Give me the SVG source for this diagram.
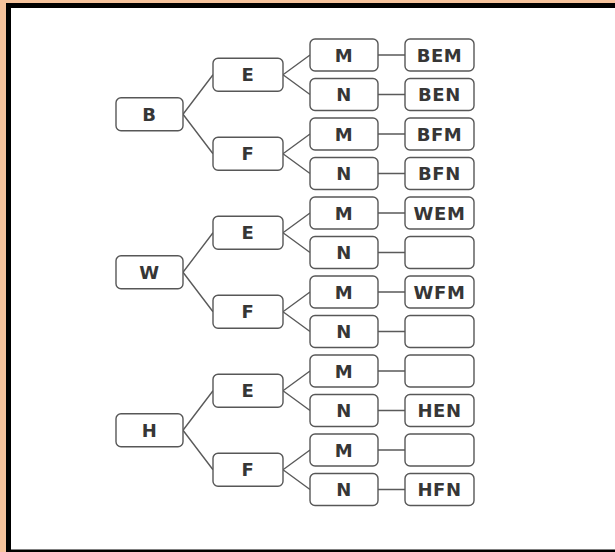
<svg xmlns="http://www.w3.org/2000/svg" width="615" height="552" viewBox="0 0 615 552">
<style>
.bx{fill:#fff;stroke:#575757;stroke-width:1.4}
.t{font-family:"DejaVu Sans",sans-serif;font-weight:bold;font-size:18px;fill:#363636;text-anchor:middle;letter-spacing:0.6px}
.c{stroke:#5a5a5a;stroke-width:1.4;fill:none}
</style>
<rect x="0" y="0" width="615" height="552" fill="#f6c39c"/>
<rect x="6" y="3" width="609" height="549" fill="#000"/>
<rect x="11" y="8" width="604" height="541.5" fill="#fff"/>
<g id="connectors" class="c">
<path d="M183 114.25L213 74.75M183 114.25L213 153.75"/>
<path d="M283 74.75L310 55M283 74.75L310 94.5M283 153.75L310 134M283 153.75L310 173.5"/>
<path d="M183 272.25L213 232.75M183 272.25L213 311.75"/>
<path d="M283 232.75L310 213M283 232.75L310 252.5M283 311.75L310 292M283 311.75L310 331.5"/>
<path d="M183 430.25L213 390.75M183 430.25L213 469.75"/>
<path d="M283 390.75L310 371M283 390.75L310 410.5M283 469.75L310 450M283 469.75L310 489.5"/>
<path d="M378 55H405M378 94.5H405M378 134H405M378 173.5H405M378 213H405M378 252.5H405M378 292H405M378 331.5H405M378 371H405M378 410.5H405M378 450H405M378 489.5H405"/>
</g>
<g id="B"><rect class="bx" x="116" y="97.75" width="67" height="33" rx="5"/><text class="t" x="149.5" y="120.8">B</text></g>
<g id="W"><rect class="bx" x="116" y="255.75" width="67" height="33" rx="5"/><text class="t" x="149.5" y="278.8">W</text></g>
<g id="H"><rect class="bx" x="116" y="413.75" width="67" height="33" rx="5"/><text class="t" x="149.5" y="436.8">H</text></g>
<g id="BE"><rect class="bx" x="213" y="58.25" width="70" height="33" rx="5"/><text class="t" x="248" y="81.3">E</text></g>
<g id="BF"><rect class="bx" x="213" y="137.25" width="70" height="33" rx="5"/><text class="t" x="248" y="160.3">F</text></g>
<g id="WE"><rect class="bx" x="213" y="216.25" width="70" height="33" rx="5"/><text class="t" x="248" y="239.3">E</text></g>
<g id="WF"><rect class="bx" x="213" y="295.25" width="70" height="33" rx="5"/><text class="t" x="248" y="318.3">F</text></g>
<g id="HE"><rect class="bx" x="213" y="374.25" width="70" height="33" rx="5"/><text class="t" x="248" y="397.3">E</text></g>
<g id="HF"><rect class="bx" x="213" y="453.25" width="70" height="33" rx="5"/><text class="t" x="248" y="476.3">F</text></g>
<g id="BEM-l"><rect class="bx" x="310" y="39" width="68" height="32" rx="5"/><text class="t" x="344" y="61.5">M</text></g>
<g id="BEN-l"><rect class="bx" x="310" y="78.5" width="68" height="32" rx="5"/><text class="t" x="344" y="101">N</text></g>
<g id="BFM-l"><rect class="bx" x="310" y="118" width="68" height="32" rx="5"/><text class="t" x="344" y="140.5">M</text></g>
<g id="BFN-l"><rect class="bx" x="310" y="157.5" width="68" height="32" rx="5"/><text class="t" x="344" y="180">N</text></g>
<g id="WEM-l"><rect class="bx" x="310" y="197" width="68" height="32" rx="5"/><text class="t" x="344" y="219.5">M</text></g>
<g id="WEN-l"><rect class="bx" x="310" y="236.5" width="68" height="32" rx="5"/><text class="t" x="344" y="259">N</text></g>
<g id="WFM-l"><rect class="bx" x="310" y="276" width="68" height="32" rx="5"/><text class="t" x="344" y="298.5">M</text></g>
<g id="WFN-l"><rect class="bx" x="310" y="315.5" width="68" height="32" rx="5"/><text class="t" x="344" y="338">N</text></g>
<g id="HEM-l"><rect class="bx" x="310" y="355" width="68" height="32" rx="5"/><text class="t" x="344" y="377.5">M</text></g>
<g id="HEN-l"><rect class="bx" x="310" y="394.5" width="68" height="32" rx="5"/><text class="t" x="344" y="417">N</text></g>
<g id="HFM-l"><rect class="bx" x="310" y="434" width="68" height="32" rx="5"/><text class="t" x="344" y="456.5">M</text></g>
<g id="HFN-l"><rect class="bx" x="310" y="473.5" width="68" height="32" rx="5"/><text class="t" x="344" y="496">N</text></g>
<g id="r-BEM"><rect class="bx" x="405" y="39" width="69" height="32" rx="5"/><text class="t" x="439.5" y="61.5">BEM</text></g>
<g id="r-BEN"><rect class="bx" x="405" y="78.5" width="69" height="32" rx="5"/><text class="t" x="439.5" y="101">BEN</text></g>
<g id="r-BFM"><rect class="bx" x="405" y="118" width="69" height="32" rx="5"/><text class="t" x="439.5" y="140.5">BFM</text></g>
<g id="r-BFN"><rect class="bx" x="405" y="157.5" width="69" height="32" rx="5"/><text class="t" x="439.5" y="180">BFN</text></g>
<g id="r-WEM"><rect class="bx" x="405" y="197" width="69" height="32" rx="5"/><text class="t" x="439.5" y="219.5">WEM</text></g>
<g id="r-WEN"><rect class="bx" x="405" y="236.5" width="69" height="32" rx="5"/></g>
<g id="r-WFM"><rect class="bx" x="405" y="276" width="69" height="32" rx="5"/><text class="t" x="439.5" y="298.5">WFM</text></g>
<g id="r-WFN"><rect class="bx" x="405" y="315.5" width="69" height="32" rx="5"/></g>
<g id="r-HEM"><rect class="bx" x="405" y="355" width="69" height="32" rx="5"/></g>
<g id="r-HEN"><rect class="bx" x="405" y="394.5" width="69" height="32" rx="5"/><text class="t" x="439.5" y="417">HEN</text></g>
<g id="r-HFM"><rect class="bx" x="405" y="434" width="69" height="32" rx="5"/></g>
<g id="r-HFN"><rect class="bx" x="405" y="473.5" width="69" height="32" rx="5"/><text class="t" x="439.5" y="496">HFN</text></g>
</svg>
